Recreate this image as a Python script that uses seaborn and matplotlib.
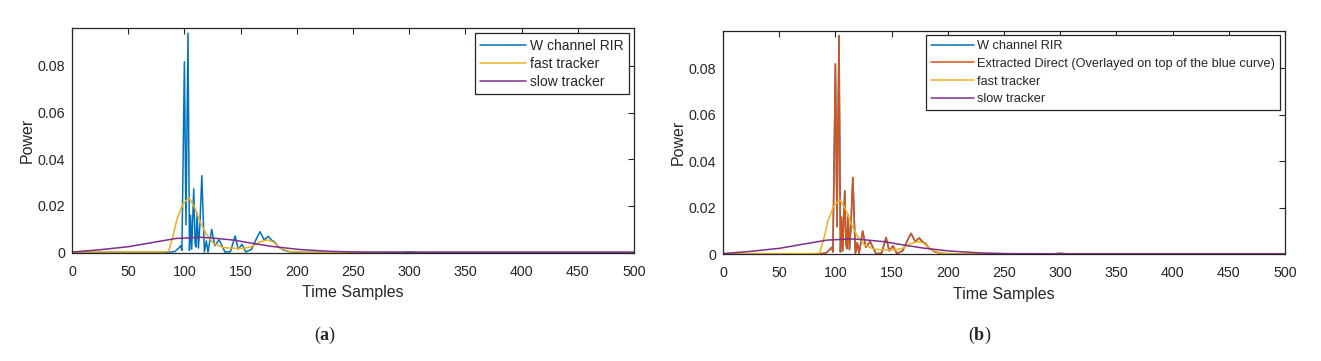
import numpy as np
import pandas as pd
import matplotlib
matplotlib.use("Agg")
import matplotlib.pyplot as plt
import seaborn as sns

# ---- data ----
rir_x = [0, 50, 85, 91.6, 95, 96.7, 97.8, 100, 101.4, 103.2, 104.5, 105.5, 106.5, 108.3,
         109.5, 110.3, 111.3, 112.5, 113.8, 115.5, 117.8, 119.5, 121, 124.3, 127, 130.9,
         136, 141, 145.1, 147.9, 151.3, 154.7, 159.8, 163.9, 167.3, 171, 174.7, 177.5,
         180, 183.6, 188.7, 193.8, 200, 250, 290, 300, 310, 350, 400, 450, 500]
rir_y = [0.0002, 0.0002, 0.0002, 0.0005, 0.0020, 0.0030, 0.0010, 0.0818, 0.0119, 0.0940,
         0.0010, 0.0160, 0.0015, 0.0273, 0.0040, 0.0024, 0.0170, 0.0020, 0.0120, 0.0330,
         0.0003, 0.0050, 0.0002, 0.0100, 0.0030, 0.0055, 0.0003, 0.0004, 0.0072, 0.0015,
         0.0036, 0.0003, 0.0015, 0.0058, 0.0090, 0.0055, 0.0070, 0.0054, 0.0047, 0.0025,
         0.0010, 0.0004, 0.0002, 0.0001, 0.0001, 0.0004, 0.0001, 0.0001, 0.0001, 0.0001, 0.0001]

fast_x = [0, 50, 80, 85.9, 90, 93.4, 98.5, 104, 108.8, 113.9, 119, 125.9, 134.4, 143,
          153, 159.8, 166.6, 173.4, 178.5, 185.3, 193.8, 205, 250, 300, 400, 500]
fast_y = [0.0003, 0.0003, 0.0003, 0.0005, 0.0073, 0.0144, 0.0207, 0.0235, 0.0197, 0.0133,
          0.0083, 0.0040, 0.0022, 0.0019, 0.0019, 0.0026, 0.0045, 0.0055, 0.0048, 0.0019,
          0.0005, 0.0002, 0.0001, 0.0001, 0.0001, 0.0001]

slow_x = [0, 23.4, 50.7, 75.5, 92.6, 114.7, 126.6, 143.7, 160.7, 177.8, 201.6, 228.9,
          252.7, 300, 400, 500]
slow_y = [0.0003, 0.0012, 0.0026, 0.0047, 0.0061, 0.0066, 0.0062, 0.0054, 0.0040, 0.0027,
          0.0014, 0.0006, 0.0003, 0.0002, 0.0002, 0.0002]

x_ticks = [0, 50, 100, 150, 200, 250, 300, 350, 400, 450, 500]
y_ticks = [0, 0.02, 0.04, 0.06, 0.08]
y_tick_labels = ["0", "0.02", "0.04", "0.06", "0.08"]

C_BLUE = "#0072BD"
C_ORANGE = "#D95319"
C_YELLOW = "#EDB120"
C_PURPLE = "#7E2F8E"

sns.set_style("white")
plt.rcParams["font.family"] = ["Liberation Sans", "DejaVu Sans"]
plt.rcParams["mathtext.fontset"] = "custom"
plt.rcParams["mathtext.rm"] = "Liberation Serif"
plt.rcParams["mathtext.bf"] = "Liberation Serif:bold"

W, H = 1321, 361
fig = plt.figure(figsize=(W / 100, H / 100), dpi=100)

axL = fig.add_axes([72 / W, 1 - 252.7 / H, 562 / W, 224.4 / H])
axR = fig.add_axes([723 / W, 1 - 254.3 / H, 562 / W, 223.6 / H])

rir = pd.DataFrame({"x": rir_x, "y": rir_y})
fast = pd.DataFrame({"x": fast_x, "y": fast_y})
slow = pd.DataFrame({"x": slow_x, "y": slow_y})

lw = 1.1
# left panel
sns.lineplot(data=rir, x="x", y="y", ax=axL, color=C_BLUE, lw=lw, label="W channel RIR")
sns.lineplot(data=fast, x="x", y="y", ax=axL, color=C_YELLOW, lw=lw, label="fast tracker")
sns.lineplot(data=slow, x="x", y="y", ax=axL, color=C_PURPLE, lw=lw, label="slow tracker")

# right panel
sns.lineplot(data=rir, x="x", y="y", ax=axR, color=C_BLUE, lw=lw, label="W channel RIR")
sns.lineplot(data=rir, x="x", y="y", ax=axR, color=C_ORANGE, lw=lw,
             label="Extracted Direct (Overlayed on top of the blue curve)")
sns.lineplot(data=fast, x="x", y="y", ax=axR, color=C_YELLOW, lw=lw, label="fast tracker")
sns.lineplot(data=slow, x="x", y="y", ax=axR, color=C_PURPLE, lw=lw, label="slow tracker")

for ax, anchor, lfs, ls in ((axL, (0.991, 0.979), 10, 0.3), (axR, (0.991, 0.981), 9.2, 0.45)):
    ax.set_xlim(0, 500)
    ax.set_ylim(0, 0.0961)
    ax.set_xticks(x_ticks)
    ax.set_xticklabels([str(t) for t in x_ticks])
    ax.set_yticks(y_ticks)
    ax.set_yticklabels(y_tick_labels)
    ax.tick_params(direction="in", top=True, right=True, length=4, width=0.8,
                   labelsize=10.3, colors="#262626")
    ax.tick_params(axis="x", pad=8.5)
    ax.tick_params(axis="y", pad=5)
    for s in ax.spines.values():
        s.set_color("#262626")
        s.set_linewidth(0.9)
    ax.set_xlabel("Time Samples", fontsize=11.5, color="#262626", labelpad=5)
    ax.set_ylabel("Power", fontsize=11.5, color="#262626", labelpad=2)
    leg = ax.legend(loc="upper right", bbox_to_anchor=anchor, borderaxespad=0,
                    fontsize=lfs, frameon=True, fancybox=False, framealpha=1,
                    edgecolor="#262626", handlelength=3.3, handletextpad=0.25,
                    labelspacing=ls, borderpad=0.4)
    leg.get_frame().set_linewidth(0.9)

fig.text(325 / W, 1 - 335 / H, r"($\mathbf{a}$)", ha="center", va="center",
         fontsize=13, family="Liberation Serif")
fig.text(980 / W, 1 - 335 / H, r"($\mathbf{b}$)", ha="center", va="center",
         fontsize=13, family="Liberation Serif")

fig.savefig("out.png", dpi=100)
